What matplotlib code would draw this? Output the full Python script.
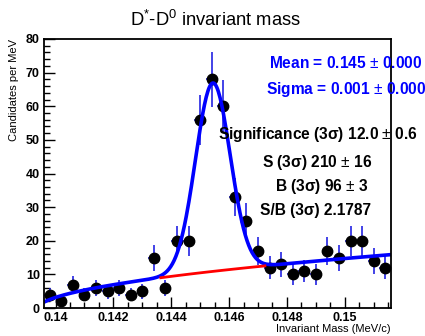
import numpy as np
import matplotlib
matplotlib.use("Agg")
import matplotlib.pyplot as plt
from matplotlib.ticker import MultipleLocator

plt.rcParams['font.family'] = ['Liberation Sans', 'DejaVu Sans']
plt.rcParams['mathtext.fontset'] = 'custom'
plt.rcParams['mathtext.rm'] = 'Liberation Sans'
plt.rcParams['mathtext.it'] = 'Liberation Sans:italic'
plt.rcParams['mathtext.bf'] = 'Liberation Sans:bold'

# --- data ---------------------------------------------------------------
bin_lo = 0.1396
bin_width = 0.0004
counts = [4, 2, 7, 4, 6, 5, 6, 4, 5, 15,
          6, 20, 20, 56, 68, 60, 33, 26, 17, 12,
          13, 10, 11, 10, 17, 15, 20, 20, 14, 12]

# fit parameters (gaussian + threshold background)
fit_mean = 0.14544
fit_sigma = 0.0006
fit_amp = 56.0
bkg_thresh = 0.1394
bkg_norm = 4.17
bkg_power = 0.535

x_range = (0.1396, 0.1516)
y_range = (0, 80)

title = r"D$^{*}$-D$^{0}$ invariant mass"
xlabel = "Invariant Mass (MeV/c)"
ylabel = "Candidates per MeV"
fit_texts = ["Mean = 0.145 $\\pm$ 0.000", "Sigma = 0.001 $\\pm$ 0.000"]
stat_texts = ["Significance (3\u03c3) 12.0 $\\pm$ 0.6",
              "S (3\u03c3) 210 $\\pm$ 16",
              "B (3\u03c3) 96 $\\pm$ 3",
              "S/B (3\u03c3) 2.1787"]


def background(x):
    return bkg_norm * np.clip((x - bkg_thresh) * 1000.0, 0, None) ** bkg_power


def signal(x):
    return fit_amp * np.exp(-0.5 * ((x - fit_mean) / fit_sigma) ** 2)


# --- plot ---------------------------------------------------------------
fig = plt.figure(figsize=(4.25, 3.36), dpi=100)
ax = fig.add_axes([0.1035, 0.083, 0.8165, 0.801])

centers = bin_lo + bin_width * (np.arange(len(counts)) + 0.5)
y = np.array(counts, dtype=float)
ax.errorbar(centers, y, yerr=np.sqrt(y), xerr=bin_width / 2, fmt='none',
            ecolor='#1010e0', elinewidth=1.1, capsize=0, zorder=2)
ax.plot(centers, y, 'o', color='black', markersize=7.5, zorder=3)

xs = np.linspace(x_range[0] + 0.00003, x_range[1], 400)
ax.plot(xs, background(xs) + signal(xs), color='#0000ff', lw=2.6, zorder=4)
xr = np.linspace(fit_mean - 3 * fit_sigma, fit_mean + 3 * fit_sigma, 100)
ax.plot(xr, background(xr), color='#ff0000', lw=2.0, zorder=4)

ax.set_xlim(*x_range)
ax.set_ylim(*y_range)
ax.xaxis.set_major_locator(MultipleLocator(0.002))
ax.xaxis.set_minor_locator(MultipleLocator(0.0005))
ax.yaxis.set_major_locator(MultipleLocator(10))
ax.yaxis.set_minor_locator(MultipleLocator(2))
ax.xaxis.set_major_formatter(plt.FuncFormatter(lambda v, p: ('%g' % round(v, 4))))
ax.tick_params(which='both', direction='in', top=False, right=False,
               labelsize=9, width=1.0, pad=3)
ax.tick_params(which='major', length=8)
ax.tick_params(which='minor', length=4)
for lab in ax.get_xticklabels() + ax.get_yticklabels():
    lab.set_fontweight('semibold')
for s in ax.spines.values():
    s.set_linewidth(1.3)
    s.set_zorder(6)

ax.set_xlabel(xlabel, fontsize=8, loc='right', labelpad=0)
ax.set_ylabel(ylabel, fontsize=8, loc='top', labelpad=5)
fig.text(0.507, 0.94, title, ha='center', va='center', fontsize=13.2)

for txt, ypix in zip(fit_texts, [63, 90]):
    fig.text(346 / 425, 1 - ypix / 336, txt, ha='center', va='center',
             fontsize=11.2, fontweight='bold', color='#0000ff', zorder=5)
for txt, xc, ypix in zip(stat_texts, [318, 317, 322, 315], [134, 162, 187, 211]):
    fig.text(xc / 425, 1 - ypix / 336, txt, ha='center', va='center',
             fontsize=11.2, fontweight='bold', color='black', zorder=5)

fig.savefig("out.png", dpi=100, facecolor='white')
